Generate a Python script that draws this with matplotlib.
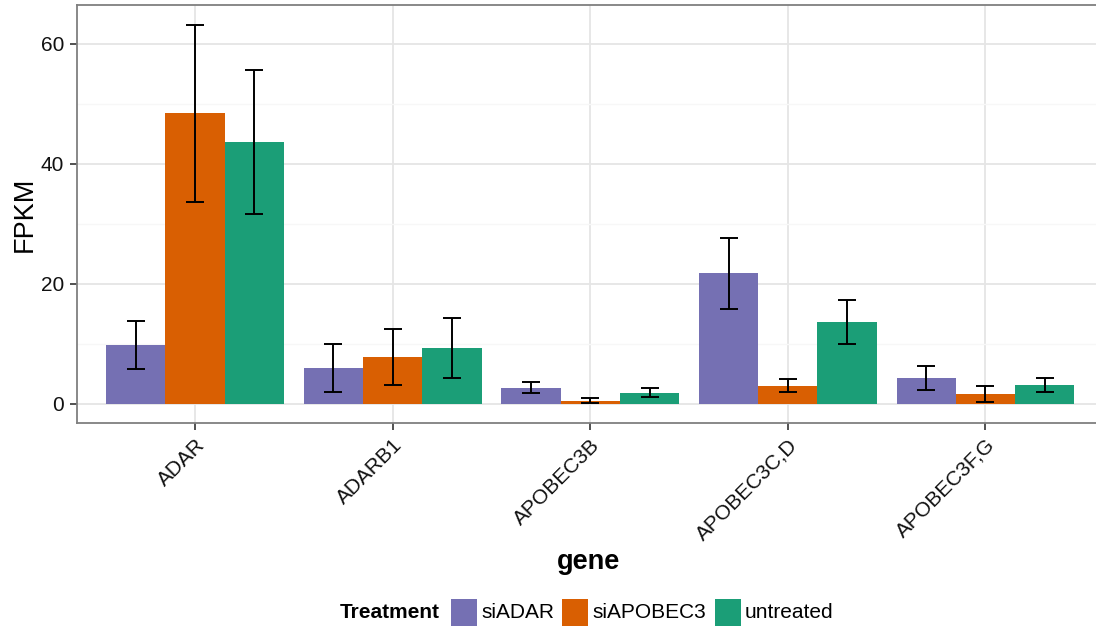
import numpy as np
import matplotlib
matplotlib.use('Agg')
import matplotlib.pyplot as plt
from matplotlib.patches import Rectangle
from matplotlib.ticker import MultipleLocator

plt.rcParams['font.family'] = ['Liberation Sans', 'DejaVu Sans']

# FPKM por gen y tratamiento (media, límites de la barra de error)
genes = ['ADAR', 'ADARB1', 'APOBEC3B', 'APOBEC3C,D', 'APOBEC3F,G']
treatments = ['siADAR', 'siAPOBEC3', 'untreated']
colors = ['#7570B3', '#D95F02', '#1B9E77']

fpkm_siADAR = [9.9, 6.0, 2.7, 21.8, 4.3]
fpkm_siAPOBEC3 = [48.5, 7.8, 0.5, 3.0, 1.7]
fpkm_untreated = [43.7, 9.3, 1.8, 13.7, 3.2]

lo_siADAR = [5.9, 2.0, 1.8, 15.9, 2.4]
hi_siADAR = [13.9, 10.0, 3.6, 27.7, 6.3]
lo_siAPOBEC3 = [33.7, 3.2, 0.1, 2.0, 0.3]
hi_siAPOBEC3 = [63.2, 12.5, 1.0, 4.1, 3.0]
lo_untreated = [31.7, 4.3, 1.2, 10.0, 2.0]
hi_untreated = [55.6, 14.3, 2.6, 17.3, 4.3]

means = [fpkm_siADAR, fpkm_siAPOBEC3, fpkm_untreated]
lows = [lo_siADAR, lo_siAPOBEC3, lo_untreated]
highs = [hi_siADAR, hi_siAPOBEC3, hi_untreated]

W, H = 1096, 628
fig = plt.figure(figsize=(W / 100, H / 100), dpi=100)

# panel en píxeles: izquierda 76.5, abajo 423, arriba 5; sale por la derecha
ax = fig.add_axes([76.5 / W, (H - 423) / H, (1104 - 76.5) / W, 418 / H])

x = np.arange(1, len(genes) + 1)
bw = 0.3
for j, (m, lo, hi, c) in enumerate(zip(means, lows, highs, colors)):
    xs = x + (j - 1) * bw
    m = np.array(m)
    ax.bar(xs, m, width=bw, color=c, linewidth=0, zorder=2)
    yerr = np.vstack([m - np.array(lo), np.array(hi) - m])
    ax.errorbar(xs, m, yerr=yerr, fmt='none', ecolor='black',
                elinewidth=1.4, capsize=6.5, capthick=1.4, zorder=3)

ax.set_xlim(0.4, 5.6)
ax.set_ylim(-3.17, 66.5)
ax.set_xticks(x)
ax.set_xticklabels(genes, rotation=45, ha='right', va='top',
                   rotation_mode='anchor', fontsize=15, color='#111111')
ax.yaxis.set_major_locator(MultipleLocator(20))
ax.yaxis.set_minor_locator(MultipleLocator(10))
ax.tick_params(axis='y', which='major', labelsize=15, labelcolor='#111111',
               length=5, width=1.2, color='#333333', pad=4)
ax.tick_params(axis='y', which='minor', length=0)
ax.tick_params(axis='x', length=5, width=1.2, color='#333333', pad=4)

# rejilla tipo theme_bw
ax.set_axisbelow(True)
ax.grid(which='major', color='#E5E5E5', linewidth=1.3, zorder=0)
ax.grid(which='minor', axis='y', color='#F7F7F7', linewidth=1.0, zorder=0)
for s in ax.spines.values():
    s.set_color('#7F7F7F')
    s.set_linewidth(1.3)

ax.set_ylabel('FPKM', fontsize=19.5, labelpad=2)
fig.text(589 / W, (H - 562) / H, 'gene', fontsize=19.5, fontweight='bold',
         ha='center', va='center')

# leyenda inferior
ly = (H - 612) / H
fig.text(340 / W, ly, 'Treatment', fontsize=15, fontweight='bold',
         ha='left', va='center')
key_x = [451, 562, 715]
for kx, t, c in zip(key_x, treatments, colors):
    fig.patches.append(Rectangle((kx / W, (H - 626) / H), 26 / W, 27 / H,
                                 transform=fig.transFigure, color=c,
                                 linewidth=0))
    fig.text((kx + 30) / W, ly, t, fontsize=15, ha='left', va='center')

fig.savefig('out.png', dpi=100)
